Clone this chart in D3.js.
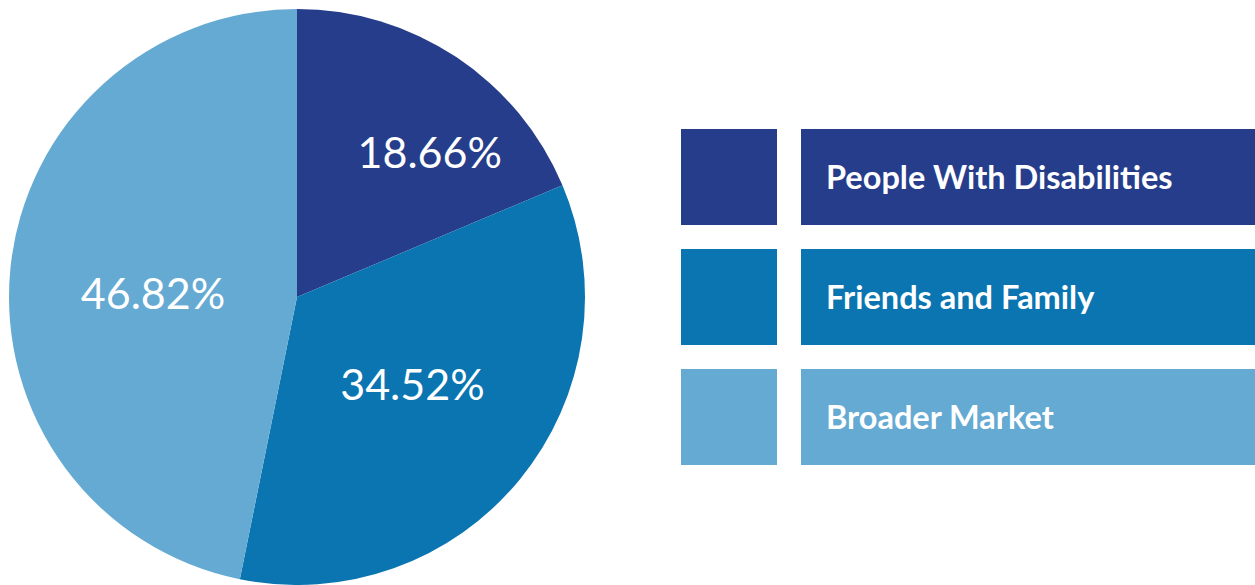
<!DOCTYPE html>
<html>
<head>
<meta charset="utf-8">
<script src="https://cdn.jsdelivr.net/npm/d3@7"></script>
<style>
  body { margin: 0; background: #fff; }
  svg { display: block; }
</style>
</head>
<body>
<div id="chart-area"></div>
<script>
const categories = ["People With Disabilities", "Friends and Family", "Broader Market"];
const shares = [18.66, 34.52, 46.82];
const colours = ["#263d8b", "#0a75b1", "#65aad2"];

const svg = d3.select("#chart-area")
    .append("svg")
    .attr("width", 1255)
    .attr("height", 585);

const radius = 288;
const pieGroup = svg.append("g")
    .attr("transform", "translate(297,297)");

const pie = d3.pie().sort(null).value(d => d);
const arc = d3.arc().innerRadius(0).outerRadius(radius);

const slices = pie(shares);

const paths = pieGroup.selectAll("path")
    .data(slices)
    .enter().append("path")
    .attr("d", arc)
    .attr("fill", (d, i) => colours[i]);

// labels sit in the middle of each slice's bounding box
const boxes = paths.nodes().map(n => n.getBBox());

pieGroup.selectAll("text")
    .data(slices)
    .enter().append("text")
    .attr("x", (d, i) => boxes[i].x + boxes[i].width / 2)
    .attr("y", (d, i) => boxes[i].y + boxes[i].height / 2)
    .attr("dy", "0.35em")
    .attr("text-anchor", "middle")
    .attr("fill", "#fff")
    .style("font-family", "Lato, sans-serif")
    .style("font-size", "43px")
    .text(d => d.data.toFixed(2) + "%");

// legend
const legendY = d3.scaleBand()
    .domain(categories)
    .range([129, 465])
    .paddingInner(0.2);

const rows = svg.selectAll(".legend")
    .data(categories)
    .enter().append("g")
    .attr("class", "legend")
    .attr("transform", d => "translate(0," + legendY(d) + ")");

rows.append("rect")
    .attr("x", 681)
    .attr("width", 96)
    .attr("height", legendY.bandwidth())
    .attr("fill", (d, i) => colours[i]);

rows.append("rect")
    .attr("x", 801)
    .attr("width", 454)
    .attr("height", legendY.bandwidth())
    .attr("fill", (d, i) => colours[i]);

rows.append("text")
    .attr("x", 826)
    .attr("y", legendY.bandwidth() / 2)
    .attr("dy", "0.36em")
    .attr("fill", "#fff")
    .style("font-family", "Lato, sans-serif")
    .style("font-weight", "bold")
    .style("font-size", "32.5px")
    .text(d => d);
</script>
</body>
</html>
